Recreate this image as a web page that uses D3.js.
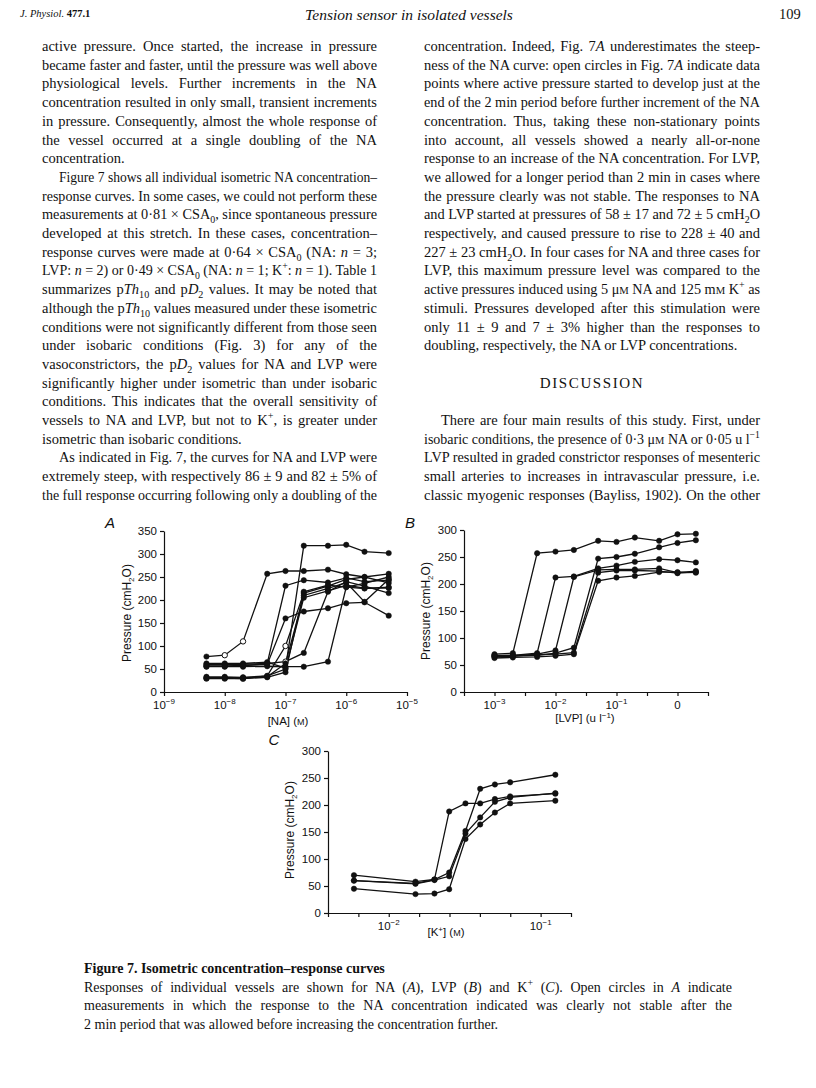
<!DOCTYPE html>
<html>
<head>
<meta charset="utf-8">
<script src="https://cdn.jsdelivr.net/npm/d3@7"></script>
<style>
  body { margin: 0; background: #fff; }
  #page { position: relative; width: 816px; height: 1088px; overflow: hidden; background: #fff; }
  #page svg { position: absolute; left: 0; top: 0; }
  .ln { position: absolute; white-space: nowrap; line-height: 1; color: #111;
        font-family: "Liberation Serif", "DejaVu Serif", serif; font-size: 14.5px; transform-origin: 0 0; }
  .ln sub, .ln sup { font-size: 70%; line-height: 0; }
  .ln small { font-size: 75%; }
  .cap { font-size: 14px; }
  .hdr { font-size: 10.5px; }
</style>
</head>
<body>
<div id="page"></div>
<script>
// ---- data: panel A (NA) ----
const naConc = [5e-9, 1e-8, 2e-8, 5e-8, 1e-7, 2e-7, 5e-7, 1e-6, 2e-6, 5e-6];
const naSeries = [
  [77, 80, 110, 257, 263, 263, 266, 256, 250, 257],
  [62, 62, 62, 65, 52, 318, 318, 320, 305, 302],
  [60, 60, 60, 62, 231, 243, 238, 248, 240, 243],
  [57, 57, 58, 60, 160, 175, 182, 193, 195, 166],
  [55, 55, 55, 56, 55, 55, 66, 228, 236, 250],
  [56, 56, 57, 62, 66, 85, 218, 240, 230, 215],
  [33, 33, 32, 35, 100, 215, 230, 245, 250, 237],
  [31, 31, 31, 33, 62, 210, 225, 238, 196, 245],
  [29, 29, 29, 32, 43, 218, 232, 228, 225, 228],
  [30, 30, 29, 35, 50, 205, 220, 232, 226, 226]
];
// indices of open (non-stationary) points for each NA series
const naOpen = [[1, 2], [], [], [], [], [4], [4], [], [], []];

// ---- data: panel B (LVP) ----
const lvpConc = [1e-3, 2e-3, 5e-3, 1e-2, 2e-2, 5e-2, 1e-1, 2e-1, 5e-1, 1, 2];
const lvpSeries = [
  [70, 72, 257, 260, 263, 280, 278, 286, 280, 292, 293],
  [67, 68, 72, 212, 214, 229, 234, 241, 246, 244, 240],
  [65, 66, 70, 77, 213, 226, 227, 227, 229, 221, 224],
  [66, 67, 68, 72, 82, 247, 250, 256, 268, 276, 281],
  [63, 64, 65, 67, 70, 206, 212, 215, 222, 222, 221],
  [68, 68, 69, 70, 73, 221, 225, 225, 224, 220, 222]
];

// ---- data: panel C (K+) ----
const kConc = [0.0059, 0.015, 0.02, 0.025, 0.032, 0.04, 0.05, 0.063, 0.125];
const kSeries = [
  [70, 58, 62, 188, 203, 203, 211, 216, 221],
  [60, 55, 62, 75, 152, 230, 238, 242, 256],
  [60, 54, 61, 68, 147, 177, 206, 214, 222],
  [45, 35, 36, 44, 137, 164, 186, 203, 208]
];

// ---- text ----
const headerLeft = "<i>J. Physiol.</i> <b>477.1</b>";
const headerTitle = "<i>Tension sensor in isolated vessels</i>";
const pageNumber = "109";

// [markup, justify?, indent]
const leftLines = [
  ["active pressure. Once started, the increase in pressure", true],
  ["became faster and faster, until the pressure was well above", true],
  ["physiological levels. Further increments in the NA", true],
  ["concentration resulted in only small, transient increments", true],
  ["in pressure. Consequently, almost the whole response of", true],
  ["the vessel occurred at a single doubling of the NA", true],
  ["concentration.", false],
  ["Figure 7 shows all individual isometric NA concentration–", true, 17],
  ["response curves. In some cases, we could not perform these", true],
  ["measurements at 0·81 × CSA<sub>0</sub>, since spontaneous pressure", true],
  ["developed at this stretch. In these cases, concentration–", true],
  ["response curves were made at 0·64 × CSA<sub>0</sub> (NA: <i>n</i> = 3;", true],
  ["LVP: <i>n</i> = 2) or 0·49 × CSA<sub>0</sub> (NA: <i>n</i> = 1; K<sup>+</sup>: <i>n</i> = 1). Table 1", true],
  ["summarizes p<i>Th</i><sub>10</sub> and p<i>D</i><sub>2</sub> values. It may be noted that", true],
  ["although the p<i>Th</i><sub>10</sub> values measured under these isometric", true],
  ["conditions were not significantly different from those seen", true],
  ["under isobaric conditions (Fig. 3) for any of the", true],
  ["vasoconstrictors, the p<i>D</i><sub>2</sub> values for NA and LVP were", true],
  ["significantly higher under isometric than under isobaric", true],
  ["conditions. This indicates that the overall sensitivity of", true],
  ["vessels to NA and LVP, but not to K<sup>+</sup>, is greater under", true],
  ["isometric than isobaric conditions.", false],
  ["As indicated in Fig. 7, the curves for NA and LVP were", true, 17],
  ["extremely steep, with respectively 86 ± 9 and 82 ± 5% of", true],
  ["the full response occurring following only a doubling of the", true]
];

// [row, markup, justify?, indent]
const rightLines = [
  [0, "concentration. Indeed, Fig. 7<i>A</i> underestimates the steep-", true],
  [1, "ness of the NA curve: open circles in Fig. 7<i>A</i> indicate data", true],
  [2, "points where active pressure started to develop just at the", true],
  [3, "end of the 2 min period before further increment of the NA", true],
  [4, "concentration. Thus, taking these non-stationary points", true],
  [5, "into account, all vessels showed a nearly all-or-none", true],
  [6, "response to an increase of the NA concentration. For LVP,", true],
  [7, "we allowed for a longer period than 2 min in cases where", true],
  [8, "the pressure clearly was not stable. The responses to NA", true],
  [9, "and LVP started at pressures of 58 ± 17 and 72 ± 5 cmH<sub>2</sub>O", true],
  [10, "respectively, and caused pressure to rise to 228 ± 40 and", true],
  [11, "227 ± 23 cmH<sub>2</sub>O. In four cases for NA and three cases for", true],
  [12, "LVP, this maximum pressure level was compared to the", true],
  [13, "active pressures induced using 5 μ<small>M</small> NA and 125 m<small>M</small> K<sup>+</sup> as", true],
  [14, "stimuli. Pressures developed after this stimulation were", true],
  [15, "only 11 ± 9 and 7 ± 3% higher than the responses to", true],
  [16, "doubling, respectively, the NA or LVP concentrations.", false],
  [20, "There are four main results of this study. First, under", true, 17],
  [21, "isobaric conditions, the presence of 0·3 μ<small>M</small> NA or 0·05 u l<sup>−1</sup>", true],
  [22, "LVP resulted in graded constrictor responses of mesenteric", true],
  [23, "small arteries to increases in intravascular pressure, i.e.", true],
  [24, "classic myogenic responses (Bayliss, 1902). On the other", true]
];

const captionLines = [
  ["<b>Figure 7. Isometric concentration–response curves</b>", false],
  ["Responses of individual vessels are shown for NA (<i>A</i>), LVP (<i>B</i>) and K<sup>+</sup> (<i>C</i>). Open circles in <i>A</i> indicate", true],
  ["measurements in which the response to the NA concentration indicated was clearly not stable after the", true],
  ["2 min period that was allowed before increasing the concentration further.", false]
];

const page = d3.select("#page");
const svg = page.append("svg").attr("width", 816).attr("height", 1088);

// one line of text, stretched or squeezed to the column width when justified
function textLine(x, y, w, html, justify, cls) {
  const d = page.append("div")
    .attr("class", "ln " + (cls || ""))
    .style("left", x + "px")
    .style("top", (y - 7) + "px")
    .html(html);
  const nat = d.node().getBoundingClientRect().width;
  if (nat > w) {
    d.style("transform", "scaleX(" + (w / nat) + ")");
  } else if (justify) {
    const spaces = (d.text().match(/ /g) || []).length;
    if (spaces) d.style("word-spacing", ((w - nat) / spaces) + "px");
  }
  return d;
}

const lineStep = 18.7;
const firstLine = 46;

// header
textLine(20, 16, 100, headerLeft, false, "hdr");
const t = textLine(0, 14, 400, headerTitle, false).style("font-size", "15.5px");
t.style("left", (409 - t.node().getBoundingClientRect().width / 2) + "px");
textLine(779, 14, 30, pageNumber, false);

// body columns
leftLines.forEach((l, i) => {
  const ind = l[2] || 0;
  textLine(42 + ind, firstLine + i * lineStep, 335 - ind, l[0], l[1]);
});
rightLines.forEach(l => {
  const ind = l[3] || 0;
  textLine(424 + ind, firstLine + l[0] * lineStep, 336 - ind, l[1], l[2]);
});
const disc = textLine(0, firstLine + 18 * lineStep, 200, "DISCUSSION", false)
  .style("letter-spacing", "1.6px").style("font-size", "15px");
disc.style("left", (592 - disc.node().getBoundingClientRect().width / 2) + "px");

// caption
captionLines.forEach((l, i) => {
  textLine(84, 969 + i * 18.6, 648, l[0], l[1], "cap");
});

// ---- charts ----
const sans = "'Liberation Sans', Arial, sans-serif";

function powLabel(sel, exp) {
  sel.append("tspan").text("10");
  sel.append("tspan").attr("dy", -5).attr("font-size", 8).text(exp);
}

function drawPanel(p) {
  const g = svg.append("g");
  const x = d3.scaleLog().domain(p.xDomain).range(p.xRange);
  const y = d3.scaleLinear().domain(p.yDomain).range(p.yRange);

  // y axis
  const ya = g.append("g")
    .attr("transform", `translate(${p.xRange[0]},0)`)
    .call(d3.axisLeft(y).tickValues(p.yTicks).tickSize(4).tickSizeOuter(0).tickPadding(3));
  ya.selectAll("text").attr("font-family", sans).attr("font-size", 11.5).attr("fill", "#111");

  // x axis
  g.append("g")
    .attr("transform", `translate(0,${p.yRange[0]})`)
    .call(d3.axisBottom(x).tickValues(p.xTicks).tickSize(4).tickSizeOuter(0).tickFormat(() => ""));
  g.selectAll(".domain, .tick line").attr("stroke", "#111").attr("stroke-width", 1.2);

  p.xLabels.forEach(lb => {
    const tx = g.append("text")
      .attr("x", x(lb.v)).attr("y", p.yRange[0] + 17)
      .attr("text-anchor", "middle")
      .attr("font-family", sans).attr("font-size", 11.5).attr("fill", "#111");
    if (lb.exp) powLabel(tx, lb.exp); else tx.text(lb.text);
  });

  // axis titles
  const xt = g.append("text")
    .attr("x", p.xTitlePos[0]).attr("y", p.xTitlePos[1])
    .attr("text-anchor", "middle")
    .attr("font-family", sans).attr("font-size", 11.5).attr("fill", "#111");
  p.xTitle(xt);

  const yt = g.append("text")
    .attr("transform", `translate(${p.yTitlePos[0]},${p.yTitlePos[1]}) rotate(-90)`)
    .attr("text-anchor", "middle")
    .attr("font-family", sans).attr("font-size", 12).attr("fill", "#111");
  yt.append("tspan").text("Pressure (cmH");
  yt.append("tspan").attr("dy", 3).attr("font-size", 8).text("2");
  yt.append("tspan").attr("dy", -3).text("O)");

  // panel letter
  g.append("text")
    .attr("x", p.letterPos[0]).attr("y", p.letterPos[1])
    .attr("text-anchor", "middle")
    .attr("font-family", sans).attr("font-style", "italic").attr("font-size", 15)
    .attr("fill", "#111").text(p.letter);

  // curves
  const line = d3.line().x(d => x(d[0])).y(d => y(d[1]));
  p.series.forEach(s => {
    const pts = s.map((v, i) => [p.conc[i], v]);
    g.append("path").datum(pts)
      .attr("d", line)
      .attr("fill", "none").attr("stroke", "#111").attr("stroke-width", 1.3);
  });
  p.series.forEach((s, si) => {
    const open = p.open ? p.open[si] : [];
    g.selectAll(null).data(s.map((v, i) => ({ c: p.conc[i], v: v, open: open.includes(i) })))
      .join("circle")
      .attr("cx", d => x(d.c)).attr("cy", d => y(d.v))
      .attr("r", 2.7)
      .attr("fill", d => d.open ? "#fff" : "#111")
      .attr("stroke", "#111").attr("stroke-width", d => d.open ? 1 : 0.5);
  });
}

// panel A
drawPanel({
  letter: "A", letterPos: [110, 528],
  conc: naConc, series: naSeries, open: naOpen,
  xDomain: [1e-9, 1e-5], xRange: [164, 407],
  yDomain: [0, 350], yRange: [692, 531],
  yTicks: d3.range(0, 351, 50),
  xTicks: [1e-9, 1e-8, 1e-7, 1e-6, 1e-5],
  xLabels: [{ v: 1e-9, exp: "−9" }, { v: 1e-8, exp: "−8" }, { v: 1e-7, exp: "−7" },
            { v: 1e-6, exp: "−6" }, { v: 1e-5, exp: "−5" }],
  xTitlePos: [288, 725],
  xTitle: t => { t.append("tspan").text("[NA] ("); t.append("tspan").attr("font-size", 9).text("M"); t.append("tspan").text(")"); },
  yTitlePos: [131, 613]
});

// panel B
drawPanel({
  letter: "B", letterPos: [410, 528],
  conc: lvpConc, series: lvpSeries,
  xDomain: [Math.pow(10, -3.5), Math.pow(10, 0.5)], xRange: [464, 708],
  yDomain: [0, 300], yRange: [692, 530],
  yTicks: d3.range(0, 301, 50),
  xTicks: d3.range(-3.5, 0.51, 0.5).map(e => Math.pow(10, e)),
  xLabels: [{ v: 1e-3, exp: "−3" }, { v: 1e-2, exp: "−2" }, { v: 1e-1, exp: "−1" }, { v: 1, text: "0" }],
  xTitlePos: [585, 722],
  xTitle: t => { t.append("tspan").text("[LVP] (u l"); t.append("tspan").attr("dy", -4).attr("font-size", 8).text("−1"); t.append("tspan").attr("dy", 4).text(")"); },
  yTitlePos: [430, 611]
});

// panel C
drawPanel({
  letter: "C", letterPos: [274, 745],
  conc: kConc, series: kSeries,
  xDomain: [Math.pow(10, -2.4), Math.pow(10, -0.8)], xRange: [328, 571],
  yDomain: [0, 300], yRange: [913, 751],
  yTicks: d3.range(0, 301, 50),
  xTicks: d3.range(-2.4, -0.79, 0.2).map(e => Math.pow(10, e)),
  xLabels: [{ v: 1e-2, exp: "−2" }, { v: 1e-1, exp: "−1" }],
  xTitlePos: [446, 936],
  xTitle: t => {
    t.append("tspan").text("[K");
    t.append("tspan").attr("dy", -4).attr("font-size", 8).text("+");
    t.append("tspan").attr("dy", 4).text("] (");
    t.append("tspan").attr("font-size", 9).text("M");
    t.append("tspan").text(")");
  },
  yTitlePos: [294, 830]
});
</script>
</body>
</html>
